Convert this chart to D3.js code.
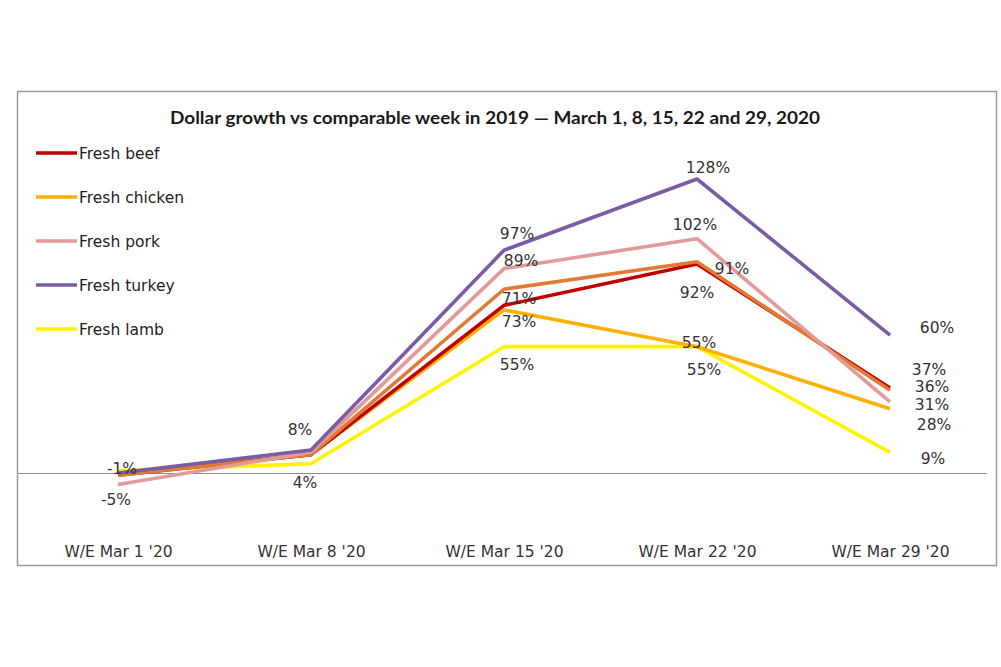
<!DOCTYPE html>
<html><head><meta charset="utf-8">
<script src="https://cdn.jsdelivr.net/npm/d3@7"></script>
<style>body{margin:0;background:#fff}svg{display:block}</style>
</head><body><svg id="c" width="1001" height="667"></svg>
<script>
const categories = ["W/E Mar 1 '20", "W/E Mar 8 '20", "W/E Mar 15 '20", "W/E Mar 22 '20", "W/E Mar 29 '20"];
const beef    = [-1, 8, 73, 91, 37];
const chicken = [0, 8, 71, 55, 28];
const pork    = [-5, 9, 89, 102, 31];
const turkey  = [0, 10, 97, 128, 60];
const lamb    = [1, 4, 55, 55, 9];
const other   = [-1, 8, 80, 92, 36];
const seriesNames = ["Fresh beef", "Fresh chicken", "Fresh pork", "Fresh turkey", "Fresh lamb"];
const title = "Dollar growth vs comparable week in  2019 — March 1, 8, 15, 22 and 29, 2020";
// value labels shown on the chart: [text, category index]
const labelTexts = [
  ["-1%",0],["-5%",0],["8%",1],["4%",1],
  ["97%",2],["89%",2],["71%",2],["73%",2],["55%",2],
  ["128%",3],["102%",3],["91%",3],["92%",3],["55%",3],["55%",3],
  ["60%",4],["37%",4],["36%",4],["31%",4],["28%",4],["9%",4]
];

const svg = d3.select("#c");
const colors = {beef:"#C00000", chicken:"#FFB000", pork:"#E39A9A", turkey:"#7A5BA5", lamb:"#FFF200", other:"#E07A35"};
const x = d3.scalePoint().domain(categories).range([118, 890]);
const y = d3.scaleLinear().domain([0, 128]).range([473, 179]);
const FONT = "'DejaVu Sans', Verdana, sans-serif";

// frame
svg.append("rect").attr("x",17.5).attr("y",91.5).attr("width",979).attr("height",474)
  .attr("fill","#fff").attr("stroke","#9a9a9a").attr("stroke-width",1.5);

// title
svg.append("text").attr("x",495).attr("y",124).attr("text-anchor","middle")
  .attr("font-family","Lato, 'Open Sans', sans-serif").attr("font-weight","bold")
  .attr("font-size",16.5).attr("fill","#1a1a1a")
  .attr("textLength",650).attr("lengthAdjust","spacingAndGlyphs").text(title);

// zero line
svg.append("line").attr("x1",18).attr("x2",987).attr("y1",y(0)+0.5).attr("y2",y(0)+0.5)
  .attr("stroke","#8c8c8c").attr("stroke-width",1.2);

// category axis labels
const xa = svg.append("g").attr("transform","translate(0,557)")
  .call(d3.axisBottom(x).tickSize(0).tickPadding(0));
xa.select(".domain").remove();
xa.selectAll("text").attr("font-family",FONT)
  .attr("font-size",15.5).attr("fill","#333").attr("dy","0");

// lines
const line = d3.line().x((d,i)=>x(categories[i])).y(d=>y(d));
const order = [["lamb",lamb],["chicken",chicken],["beef",beef],["other",other],["pork",pork],["turkey",turkey]];
order.forEach(([k,arr])=>{
  svg.append("path").datum(arr).attr("d",line).attr("fill","none")
    .attr("stroke",colors[k]).attr("stroke-width",3.6).attr("stroke-linejoin","round");
});

// legend
const legKeys = ["beef","chicken","pork","turkey","lamb"];
seriesNames.forEach((n,i)=>{
  const ly = 153 + i*44;
  svg.append("line").attr("x1",36).attr("x2",77).attr("y1",ly).attr("y2",ly)
    .attr("stroke",colors[legKeys[i]]).attr("stroke-width",3.6);
  svg.append("text").attr("x",79).attr("y",ly+5.5).attr("font-family",FONT)
    .attr("font-size",15.5).attr("fill","#222").text(n);
});

// value label placements (pixel positions of label centres)
const labelPos = [
  [122,468],[116,499],[300,429],[305,482],
  [517,233],[521,260],[519,298],[519,321],[517,364],
  [708,167],[695,224],[732,268],[697,292],[699,342],[704,369],
  [937,327],[929,369],[932,386],[932,404],[934,424],[933,458]
];
labelTexts.forEach(([t,ci],i)=>{
  const dx = labelPos[i][0] - x(categories[ci]);
  svg.append("text").attr("x",x(categories[ci])+dx).attr("y",labelPos[i][1]+5.5)
    .attr("text-anchor","middle").attr("font-family",FONT)
    .attr("font-size",15.5).attr("fill","#333").text(t);
});
</script></body></html>
